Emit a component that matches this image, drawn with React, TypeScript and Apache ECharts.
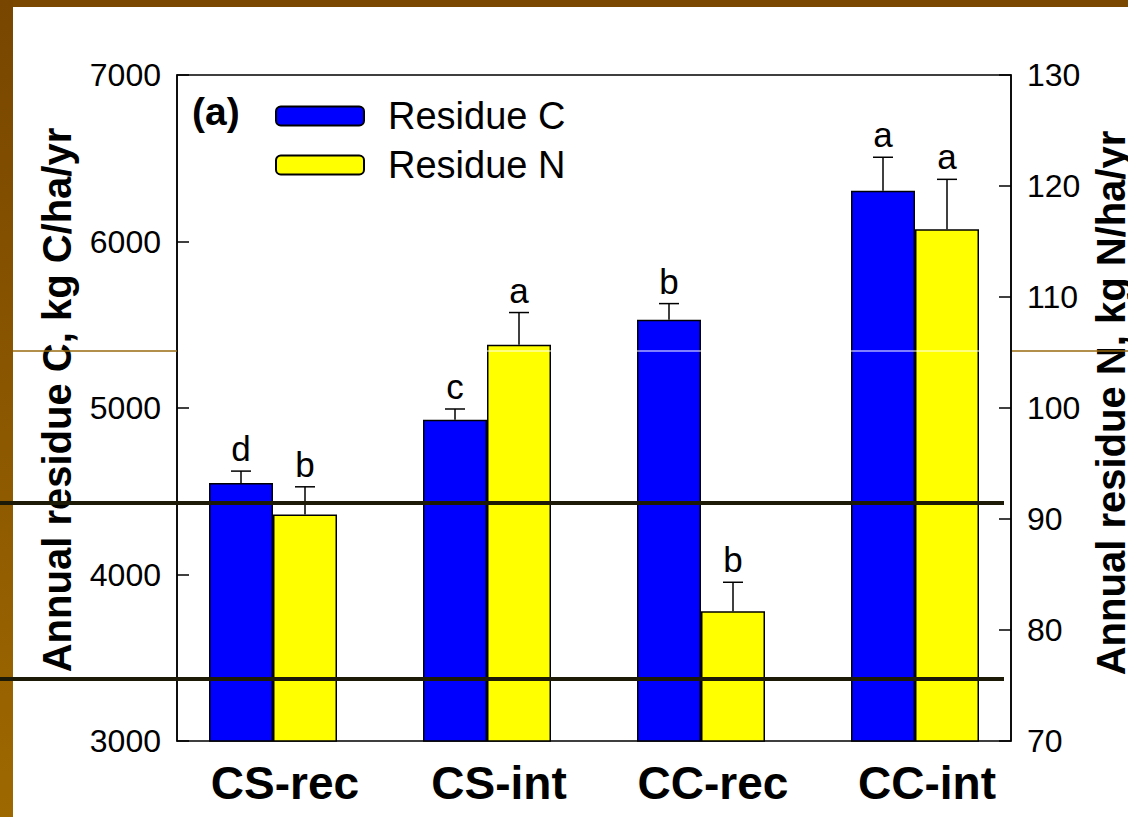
import React, { useEffect, useRef } from 'react';
import * as echarts from 'echarts';

const categories = ['CS-rec', 'CS-int', 'CC-rec', 'CC-int'];
const residueC = [4550, 4930, 5530, 6305];
const residueCErr = [71, 64, 97, 201];
const residueN = [90.4, 105.7, 81.7, 116.1];
const residueNErr = [2.5, 2.9, 2.6, 4.5];
const lettersC = ['d', 'c', 'b', 'a'];
const lettersN = ['b', 'a', 'b', 'a'];
const leftAxis = { min: 3000, max: 7000, interval: 1000 };
const rightAxis = { min: 70, max: 130, interval: 10 };
const seriesNames = ['Residue C', 'Residue N'];

const FONT = '"Liberation Sans", Arial, Helvetica, sans-serif';

function errSeries(vals: number[], errs: number[], letters: string[], yIdx: number, offset: number) {
  return {
    type: 'custom',
    xAxisIndex: 0,
    yAxisIndex: yIdx,
    z: 5,
    silent: true,
    data: vals.map((v, i) => [i, v, v + errs[i]]),
    encode: { x: 0, y: [1, 2] },
    renderItem: (params: any, api: any) => {
      const i = api.value(0);
      const base = api.coord([i, api.value(1)]);
      const top = api.coord([i, api.value(2)]);
      const x = base[0] + offset;
      return {
        type: 'group',
        children: [
          { type: 'line', shape: { x1: x, y1: base[1], x2: x, y2: top[1] }, style: { stroke: '#000', lineWidth: 1.5 } },
          { type: 'line', shape: { x1: x - 10, y1: top[1], x2: x + 10, y2: top[1] }, style: { stroke: '#000', lineWidth: 1.5 } },
          {
            type: 'text',
            x,
            y: top[1] - 5,
            style: {
              text: letters[params.dataIndex],
              fill: '#000',
              fontSize: 35,
              fontFamily: FONT,
              align: 'center',
              verticalAlign: 'bottom',
            },
          },
        ],
      };
    },
  };
}

export default function App() {
  const ref = useRef<HTMLDivElement>(null);
  useEffect(() => {
    if (!ref.current) return;
    const chart = echarts.init(ref.current, undefined, { renderer: 'svg' });
    const axisLineStyle = { color: '#000', width: 1.5 };
    const plain = (v: number) => String(v);
    const option: any = {
      animation: false,
      backgroundColor: '#fff',
      textStyle: { fontFamily: FONT },
      grid: [
        { left: 166, width: 856, top: 75, height: 666, outerBoundsMode: 'none', containLabel: false },
        {
          left: 177, width: 834, top: 75, height: 666, outerBoundsMode: 'none', containLabel: false,
          show: true, borderColor: '#000', borderWidth: 1.5, backgroundColor: 'transparent',
        },
      ],
      legend: {
        orient: 'vertical',
        left: 275,
        top: 97,
        padding: 0,
        itemWidth: 88,
        itemHeight: 19,
        itemGap: 11,
        data: seriesNames,
        textStyle: { fontSize: 38, color: '#000', fontFamily: FONT, padding: [0, 0, 0, 19] },
      },
      xAxis: [
        {
          type: 'category',
          gridIndex: 0,
          data: categories,
          axisLine: { show: false },
          axisTick: { show: false },
          axisLabel: { fontSize: 46, fontWeight: 'bold', color: '#000', margin: 19, fontFamily: FONT, padding: [0, 0, 0, 24] },
        },
        { type: 'value', gridIndex: 1, show: false, min: 0, max: 1 },
      ],
      yAxis: [
        { type: 'value', gridIndex: 0, min: leftAxis.min, max: leftAxis.max, show: false },
        { type: 'value', gridIndex: 0, min: rightAxis.min, max: rightAxis.max, show: false },
        {
          type: 'value',
          gridIndex: 1,
          position: 'left',
          min: leftAxis.min,
          max: leftAxis.max,
          interval: leftAxis.interval,
          axisLine: { show: true, lineStyle: axisLineStyle },
          axisTick: { show: true, inside: true, length: 12, lineStyle: axisLineStyle },
          axisLabel: { fontSize: 32, margin: 16, color: '#000', fontFamily: FONT, formatter: plain },
          splitLine: { show: false },
          name: 'Annual residue C, kg C/ha/yr',
          nameLocation: 'middle',
          nameRotate: 90,
          nameGap: 100,
          nameTextStyle: { fontSize: 40, fontWeight: 'bold', color: '#000', fontFamily: FONT, padding: [0, 0, 0, 16] },
        },
        {
          type: 'value',
          gridIndex: 1,
          position: 'right',
          min: rightAxis.min,
          max: rightAxis.max,
          interval: rightAxis.interval,
          axisLine: { show: true, lineStyle: axisLineStyle },
          axisTick: { show: true, inside: true, length: 12, lineStyle: axisLineStyle },
          axisLabel: { fontSize: 32, margin: 16, color: '#000', fontFamily: FONT, formatter: plain },
          splitLine: { show: false },
          name: 'Annual residue N, kg N/ha/yr',
          nameLocation: 'middle',
          nameRotate: 90,
          nameGap: 68,
          nameTextStyle: { fontSize: 40, fontWeight: 'bold', color: '#000', fontFamily: FONT, padding: [0, 0, 0, 10] },
        },
      ],
      series: [
        {
          name: seriesNames[0],
          type: 'bar',
          xAxisIndex: 0,
          yAxisIndex: 0,
          data: residueC,
          barWidth: 64,
          barGap: '0%',
          itemStyle: { color: '#0000ff', borderColor: '#000', borderWidth: 1.5 },
        },
        {
          name: seriesNames[1],
          type: 'bar',
          xAxisIndex: 0,
          yAxisIndex: 1,
          data: residueN,
          barWidth: 64,
          barGap: '0%',
          itemStyle: { color: '#ffff00', borderColor: '#000', borderWidth: 1.5 },
        },
        errSeries(residueC, residueCErr, lettersC, 0, -32),
        errSeries(residueN, residueNErr, lettersN, 1, 32),
      ],
      graphic: [
        {
          type: 'text',
          left: 192,
          top: 92,
          z: 10,
          style: { text: '(a)', fontSize: 39, fontWeight: 'bold', fill: '#000', fontFamily: FONT },
        },
        { type: 'line', z: 100, silent: true, shape: { x1: 13, y1: 351, x2: 177, y2: 351 }, style: { stroke: '#9a6a10', lineWidth: 1.5 } },
        { type: 'line', z: 100, silent: true, shape: { x1: 178, y1: 351, x2: 1010, y2: 351 }, style: { stroke: '#ffffff', lineWidth: 1 } },
        { type: 'line', z: 100, silent: true, shape: { x1: 1012, y1: 351, x2: 1128, y2: 351 }, style: { stroke: '#9a6a10', lineWidth: 1.5 } },
        { type: 'line', z: 100, silent: true, shape: { x1: 0, y1: 503, x2: 1004, y2: 503 }, style: { stroke: '#1e1a08', lineWidth: 4 } },
        { type: 'line', z: 100, silent: true, shape: { x1: 0, y1: 679, x2: 1004, y2: 679 }, style: { stroke: '#1e1a08', lineWidth: 4 } },
        {
          type: 'rect', z: 99, silent: true,
          shape: { x: 0, y: 0, width: 1128, height: 7 },
          style: { fill: '#7a4800' },
        },
        {
          type: 'rect', z: 99, silent: true,
          shape: { x: 0, y: 0, width: 13, height: 817 },
          style: {
            fill: new echarts.graphic.LinearGradient(0, 0, 0, 1, [
              { offset: 0, color: '#784600' },
              { offset: 1, color: '#9e6800' },
            ]),
          },
        },
      ],
    };
    chart.setOption(option);
    return () => chart.dispose();
  }, []);
  return <div ref={ref} style={{ position: 'absolute', left: 0, top: 0, width: 1128, height: 817 }} />;
}
